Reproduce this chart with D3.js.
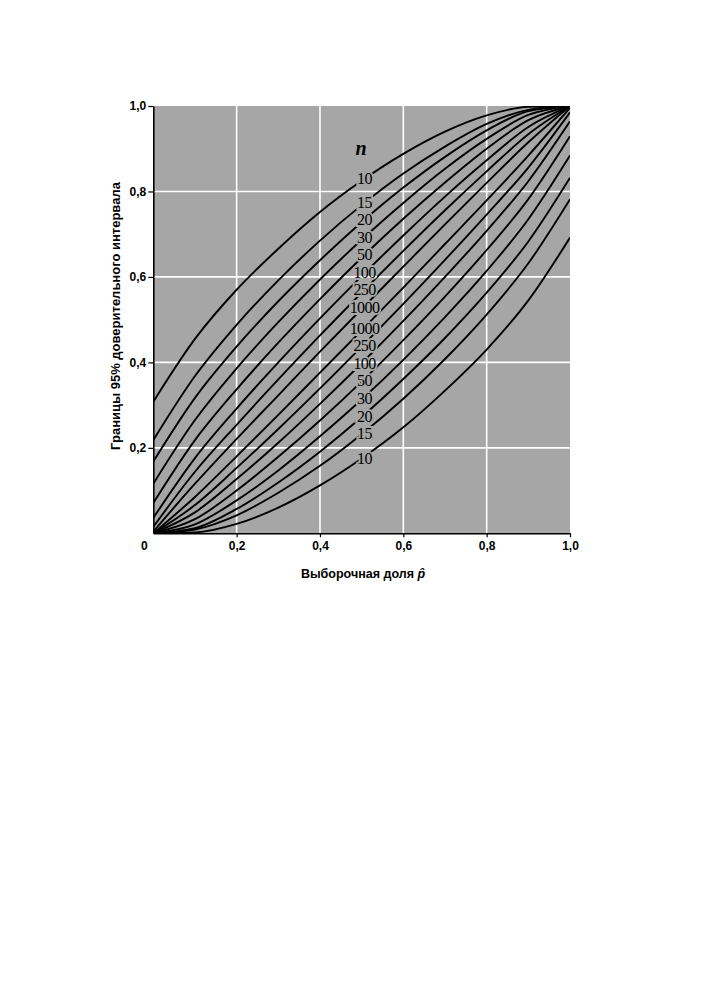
<!DOCTYPE html>
<html>
<head>
<meta charset="utf-8">
<script src="https://cdn.jsdelivr.net/npm/d3@7/dist/d3.min.js"></script>
<style>
	body { margin: 0; background: #fff; }
	svg { display: block; }
</style>
</head>
<body>
<svg id="chart" width="705" height="1000"></svg>
<script>

// sample proportion at which the bounds were read
var pValues = [0, 0.1, 0.2, 0.3, 0.4, 0.5, 0.6, 0.7, 0.8, 0.9, 1.0];

// sample sizes
var sizes = [10, 15, 20, 30, 50, 100, 250, 1000];

// upper 95% bounds, one row per sample size
var upper10 = [0.308, 0.455, 0.570, 0.666, 0.752, 0.825, 0.888, 0.940, 0.978, 0.998, 1];
var upper15 = [0.218, 0.368, 0.488, 0.592, 0.685, 0.768, 0.842, 0.905, 0.958, 0.991, 1];
var upper20 = [0.168, 0.317, 0.437, 0.543, 0.639, 0.728, 0.809, 0.881, 0.943, 0.988, 1];
var upper30 = [0.116, 0.265, 0.386, 0.494, 0.594, 0.687, 0.773, 0.853, 0.923, 0.979, 1];
var upper50 = [0.071, 0.218, 0.337, 0.446, 0.548, 0.645, 0.736, 0.821, 0.900, 0.967, 1];
var upper100 = [0.036, 0.176, 0.292, 0.400, 0.503, 0.602, 0.697, 0.788, 0.873, 0.951, 1];
var upper250 = [0.015, 0.144, 0.254, 0.360, 0.463, 0.563, 0.661, 0.756, 0.847, 0.934, 1];
var upper1000 = [0.004, 0.116, 0.221, 0.323, 0.425, 0.525, 0.624, 0.723, 0.820, 0.915, 1];

// lower 95% bounds
var lower10 = [0, 0.002, 0.022, 0.060, 0.112, 0.175, 0.248, 0.334, 0.430, 0.545, 0.692];
var lower15 = [0, 0.009, 0.042, 0.095, 0.158, 0.232, 0.315, 0.408, 0.512, 0.632, 0.782];
var lower20 = [0, 0.012, 0.057, 0.119, 0.191, 0.272, 0.361, 0.457, 0.563, 0.683, 0.832];
var lower30 = [0, 0.021, 0.077, 0.147, 0.227, 0.313, 0.406, 0.506, 0.614, 0.735, 0.884];
var lower50 = [0, 0.033, 0.100, 0.179, 0.264, 0.355, 0.452, 0.554, 0.663, 0.782, 0.929];
var lower100 = [0, 0.049, 0.127, 0.212, 0.303, 0.398, 0.497, 0.600, 0.708, 0.824, 0.964];
var lower250 = [0, 0.066, 0.153, 0.244, 0.339, 0.437, 0.537, 0.640, 0.746, 0.856, 0.985];
var lower1000 = [0, 0.085, 0.180, 0.277, 0.376, 0.475, 0.575, 0.677, 0.779, 0.884, 0.996];

var upperRows = [upper10, upper15, upper20, upper30, upper50, upper100, upper250, upper1000];
var lowerRows = [lower10, lower15, lower20, lower30, lower50, lower100, lower250, lower1000];

var gridValues = [0.2, 0.4, 0.6, 0.8];
var tickValues = [0.2, 0.4, 0.6, 0.8, 1.0];

var xTitle = "Выборочная доля ";
var yTitle = "Границы 95% доверительного интервала";

var bg = "#a6a6a6";

var svg = d3.select("#chart");

var x = d3.scaleLinear().domain([0, 1]).range([153.3, 570]);
var y = d3.scaleLinear().domain([0, 1]).range([533.3, 106]);

var comma = d3.formatLocale({decimal: ",", thousands: " ", grouping: [3], currency: ["", ""]});
var fmt = comma.format(".1f");

// one object per curve: upper bounds first (top to bottom), then lower
var curves = [];
upperRows.forEach(function(row, i) {
	curves.push({id: "u" + sizes[i], n: sizes[i], lower: false, values: row});
});
lowerRows.slice().reverse().forEach(function(row, i) {
	var n = sizes[sizes.length - 1 - i];
	curves.push({id: "l" + n, n: n, lower: true, values: row});
});

var defs = svg.append("defs");
defs.append("clipPath").attr("id", "plotclip")
	.append("rect")
	.attr("x", x(0)).attr("y", y(1))
	.attr("width", x(1) - x(0)).attr("height", y(0) - y(1));

// background
svg.append("rect")
	.attr("x", x(0)).attr("y", y(1))
	.attr("width", x(1) - x(0)).attr("height", y(0) - y(1))
	.attr("fill", bg);

// white grid
var grid = svg.append("g").attr("class", "grid");
grid.selectAll("line.gx").data(gridValues).enter().append("line")
	.attr("x1", function(d) { return x(d); })
	.attr("x2", function(d) { return x(d); })
	.attr("y1", y(0)).attr("y2", y(1))
	.attr("stroke", "#fff").attr("stroke-width", 1.6);
grid.selectAll("line.gy").data(gridValues).enter().append("line")
	.attr("y1", function(d) { return y(d); })
	.attr("y2", function(d) { return y(d); })
	.attr("x1", x(0)).attr("x2", x(1))
	.attr("stroke", "#fff").attr("stroke-width", 1.6);

var line = d3.line()
	.x(function(d, i) { return x(pValues[i]); })
	.y(function(d) { return y(d); })
	.curve(d3.curveMonotoneX);

var mask = defs.append("mask").attr("id", "labelmask")
	.attr("maskUnits", "userSpaceOnUse")
	.attr("x", 0).attr("y", 0).attr("width", 705).attr("height", 1000);
mask.append("rect").attr("width", 705).attr("height", 1000).attr("fill", "#fff");

var curveGroup = svg.append("g")
	.attr("clip-path", "url(#plotclip)")
	.append("g")
	.attr("mask", "url(#labelmask)");

curveGroup.selectAll("path").data(curves).enter().append("path")
	.attr("id", function(d) { return d.id; })
	.attr("d", function(d) { return line(d.values); })
	.attr("fill", "none")
	.attr("stroke", "#000")
	.attr("stroke-width", 1.9);

// y of a drawn curve at screen x, found along the path
function yAt(node, px) {
	var len = node.getTotalLength(), lo = 0, hi = len, pt;
	for (var k = 0; k < 40; k++) {
		var mid = (lo + hi) / 2;
		pt = node.getPointAtLength(mid);
		if (pt.x < px) lo = mid; else hi = mid;
	}
	return pt.y;
}

var labelX = 364.5;
curves.forEach(function(d) {
	d.ly = yAt(document.getElementById(d.id), labelX) + (d.lower ? 2 : 0);
});

// push labels apart where they would touch
var minGap = 17.5;
for (var pass = 0; pass < 50; pass++) {
	for (var i = 1; i < curves.length; i++) {
		var gap = curves[i].ly - curves[i - 1].ly;
		if (gap < minGap) {
			var shift = (minGap - gap) / 2;
			curves[i - 1].ly -= shift;
			curves[i].ly += shift;
		}
	}
}

function labelText(sel) {
	sel.attr("x", labelX)
		.attr("y", function(d) { return d.ly; })
		.attr("text-anchor", "middle")
		.attr("dominant-baseline", "central")
		.attr("font-family", "'Liberation Serif', 'DejaVu Serif', serif")
		.attr("font-size", 16)
		.attr("letter-spacing", -0.6)
		.text(function(d) { return d.n; });
}

// gaps in the curves behind the labels
mask.selectAll("text").data(curves).enter().append("text")
	.call(labelText)
	.attr("fill", "#000")
	.attr("stroke", "#000")
	.attr("stroke-width", 4);

svg.append("g").selectAll("text").data(curves).enter().append("text")
	.call(labelText)
	.attr("fill", "#000");

svg.append("text")
	.attr("x", 361).attr("y", 148)
	.attr("text-anchor", "middle")
	.attr("dominant-baseline", "central")
	.attr("font-family", "'Liberation Serif', 'DejaVu Serif', serif")
	.attr("font-size", 20)
	.attr("font-style", "italic")
	.attr("font-weight", "bold")
	.text("n");

// axes
var xAxis = d3.axisBottom(x).tickValues(tickValues).tickFormat(fmt)
	.tickSize(4).tickSizeOuter(0).tickPadding(4);
var yAxis = d3.axisLeft(y).tickValues(tickValues).tickFormat(fmt)
	.tickSize(5).tickSizeOuter(0).tickPadding(2);

function styleAxis(g) {
	g.select(".domain").attr("stroke", "#000").attr("stroke-width", 1.6);
	g.selectAll(".tick line").attr("stroke", "#000").attr("stroke-width", 1.2);
	g.selectAll(".tick text")
		.attr("font-family", "'Liberation Sans', Arial, sans-serif")
		.attr("font-weight", "bold")
		.attr("font-size", 12)
		.attr("fill", "#000");
}

svg.append("g").attr("transform", "translate(0," + y(0) + ")")
	.call(xAxis).call(styleAxis);
svg.append("g").attr("transform", "translate(" + x(0) + ",0)")
	.call(yAxis).call(styleAxis);

svg.append("text")
	.attr("x", x(0) - 9).attr("y", y(0) + 8)
	.attr("dy", "0.71em")
	.attr("text-anchor", "middle")
	.attr("font-family", "'Liberation Sans', Arial, sans-serif")
	.attr("font-weight", "bold")
	.attr("font-size", 12)
	.text("0");

// axis titles
var xt = svg.append("text")
	.attr("x", 363).attr("y", 578)
	.attr("text-anchor", "middle")
	.attr("font-family", "'Liberation Sans', Arial, sans-serif")
	.attr("font-weight", "bold")
	.attr("font-size", 12.5);
xt.append("tspan").text(xTitle);
xt.append("tspan").attr("font-style", "italic").text("p\u0302");

svg.append("text")
	.attr("transform", "translate(120,316) rotate(-90)")
	.attr("text-anchor", "middle")
	.attr("font-family", "'Liberation Sans', Arial, sans-serif")
	.attr("font-weight", "bold")
	.attr("font-size", 13)
	.text(yTitle);

</script>
</body>
</html>
